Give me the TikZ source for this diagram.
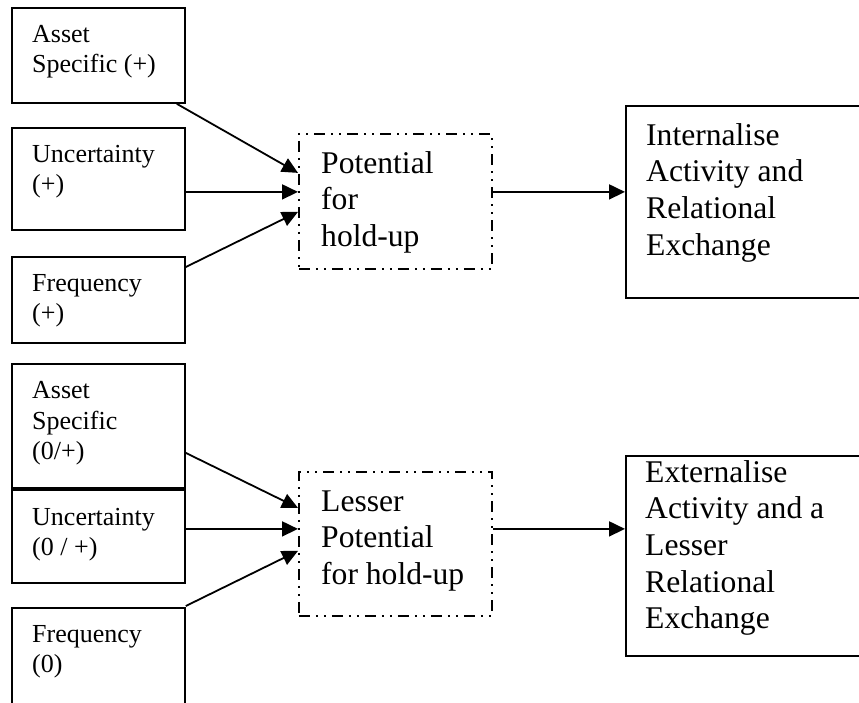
\documentclass[tikz,border=0pt]{standalone}
\usepackage{fontspec}
\setmainfont{Liberation Serif}
\usetikzlibrary{arrows.meta}

\tikzset{
  frame/.style={draw, line width=1.8pt, anchor=north west, inner sep=0pt},
  solidbox/.style={frame},
  dashbox/.style={frame, dash pattern=on 11pt off 6pt on 2pt off 6pt on 2pt off 6pt},
  smalltxt/.style={anchor=north west, inner sep=0pt, align=left,
    font=\fontsize{26}{30.5}\selectfont},
  bigtxt/.style={anchor=north west, inner sep=0pt, align=left,
    font=\fontsize{31.6}{36.6}\selectfont},
  link/.style={line width=1.8pt, -{Triangle[length=16pt, width=15pt]}},
}
% strut fixing the first baseline below the top of a text node
\newcommand{\firstsm}{\rule{0pt}{20.8pt}}
\newcommand{\firstbg}{\rule{0pt}{25.3pt}}

\begin{document}
\begin{tikzpicture}[x=1pt, y=-1pt]
  \useasboundingbox (0,0) rectangle (859,702);
  \begin{scope}
    \clip (0,0) rectangle (859,702);

    % --- upper chain: drivers of hold-up ---
    \node[solidbox, minimum width=173pt, minimum height=95pt]  (a1) at (11,7) {};
    \node[solidbox, minimum width=173pt, minimum height=102pt] (u1) at (11,127) {};
    \node[solidbox, minimum width=173pt, minimum height=86pt]  (f1) at (11,256) {};
    \node[smalltxt] (a1t) at (32,42-20.8) {\firstsm Asset\\Specific (+)};
    \node[smalltxt] (u1t) at (32,162-20.8) {\firstsm Uncertainty\\(+)};
    \node[smalltxt] (f1t) at (32,291-20.8) {\firstsm Frequency\\(+)};

    \node[dashbox, minimum width=193pt, minimum height=135pt] (p1) at (298,133) {};
    \node[bigtxt] (p1t) at (321,173-25.3) {\firstbg Potential\\for\\hold-up};

    \node[solidbox, minimum width=300pt, minimum height=192pt] (in) at (625,105) {};
    \node[bigtxt] (int) at (646,145-25.3) {\firstbg Internalise\\Activity and\\Relational\\Exchange};

    \draw[link] ([xshift=-9pt]a1.south east) -- ([yshift=28.5pt]p1.west);
    \draw[link] ([yshift=-13pt]u1.east) -- ([yshift=9.5pt]p1.west);
    \draw[link] ([yshift=-11pt]f1.north east) -- ([yshift=-10.5pt]p1.west);
    \draw[link] ([yshift=9.5pt]p1.east) -- ([yshift=9.5pt]p1.east -| in.west);

    % --- lower chain: weaker drivers ---
    \node[solidbox, minimum width=173pt, minimum height=124pt] (a2) at (11,363) {};
    \node[solidbox, minimum width=173pt, minimum height=93pt]  (u2) at (11,489) {};
    \node[solidbox, minimum width=173pt, minimum height=140pt] (f2) at (11,607) {};
    \node[smalltxt] (a2t) at (32,398.5-20.8) {\firstsm Asset\\Specific\\(0/+)};
    \node[smalltxt] (u2t) at (32,525-20.8) {\firstsm Uncertainty\\(0 / +)};
    \node[smalltxt] (f2t) at (32,642-20.8) {\firstsm Frequency\\(0)};

    \node[dashbox, minimum width=193pt, minimum height=144pt] (p2) at (298,471) {};
    \node[bigtxt] (p2t) at (321,511-25.3) {\firstbg Lesser\\Potential\\for hold-up};

    \node[solidbox, minimum width=300pt, minimum height=200pt] (ex) at (625,455) {};
    \node[bigtxt] (ext) at (645,482-25.3) {\firstbg Externalise\\Activity and a\\Lesser\\Relational\\Exchange};

    \draw[link] ([yshift=-27pt]a2.east) -- ([yshift=36pt]p2.west);
    \draw[link] ([yshift=7.5pt]u2.east) -- ([yshift=15pt]p2.west);
    \draw[link] ([yshift=1pt]f2.north east) -- ([yshift=-7pt]p2.west);
    \draw[link] ([yshift=15pt]p2.east) -- ([yshift=15pt]p2.east -| ex.west);
  \end{scope}
\end{tikzpicture}
\end{document}
